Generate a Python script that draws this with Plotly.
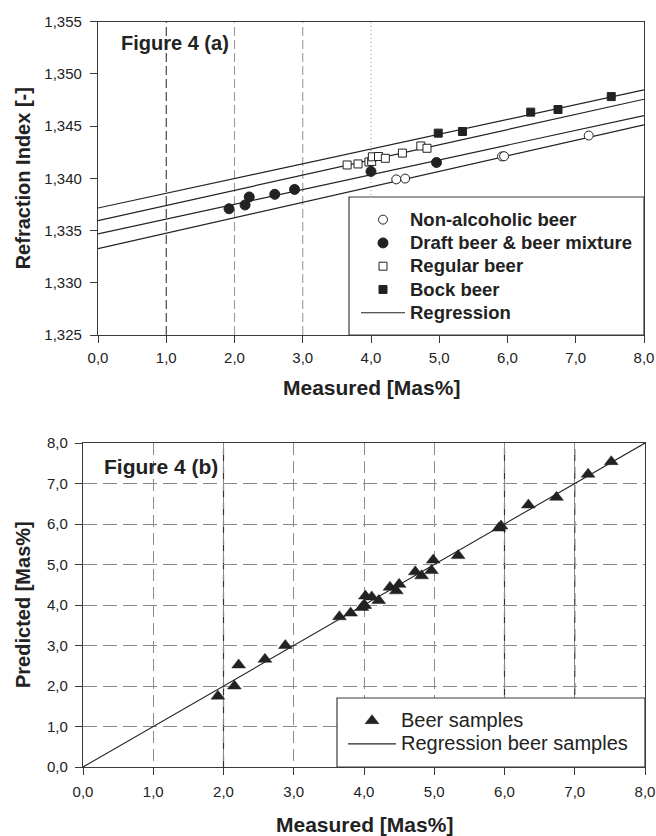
import plotly.graph_objects as go

# ---------------- data: Figure 4 (a) ----------------
na_x = [4.37, 4.50, 5.92, 5.95, 7.19]
na_y = [1.33990, 1.33998, 1.34210, 1.34212, 1.34410]

draft_x = [1.92, 2.155, 2.216, 2.59, 2.88, 4.00, 4.96]
draft_y = [1.33709, 1.33745, 1.33822, 1.33847, 1.33894, 1.34066, 1.34152]

regular_x = [3.65, 3.81, 3.97, 4.01, 4.02, 4.11, 4.21, 4.46, 4.73, 4.82]
regular_y = [1.34128, 1.34138, 1.34156, 1.34162, 1.34206, 1.34209, 1.34192, 1.34242, 1.34310, 1.34288]

bock_x = [4.985, 5.34, 6.34, 6.74, 7.52]
bock_y = [1.34433, 1.34449, 1.34634, 1.34659, 1.34783]

# regression lines (intercept, slope)
reg_names = ["Bock", "Regular", "Draft", "Non-alcoholic"]
reg_intercepts = [1.33716, 1.33595, 1.33468, 1.33327]
reg_slopes = [0.001413, 0.001453, 0.001417, 0.001481]
reg_x_range = [0.0, 8.0]

# reference (grid-like) vertical lines in panel (a)
ref_lines_a = [1, 2, 3, 4]

a_xtickvals = [0, 1, 2, 3, 4, 5, 6, 7, 8]
a_xticktext = ["0,0", "1,0", "2,0", "3,0", "4,0", "5,0", "6,0", "7,0", "8,0"]
a_ytickvals = [1.325, 1.330, 1.335, 1.340, 1.345, 1.350, 1.355]
a_yticktext = ["1,325", "1,330", "1,335", "1,340", "1,345", "1,350", "1,355"]

# ---------------- data: Figure 4 (b) ----------------
# predicted values in the order: non-alcoholic, draft, regular, bock
beer_predicted = [4.44, 4.51, 5.90, 5.95, 7.23,
                  1.75, 2.00, 2.52, 2.66, 3.00, 4.00, 4.85,
                  3.71, 3.80, 3.94, 3.99, 4.22, 4.20, 4.11, 4.35, 4.82, 4.72,
                  5.11, 5.22, 6.47, 6.66, 7.54]
beer_measured = na_x + draft_x + regular_x + bock_x
reg_b_intercept = 0.0
reg_b_slope = 1.0
reg_b_x_range = [0.0, 8.0]

b_tickvals = [0, 1, 2, 3, 4, 5, 6, 7, 8]
b_ticktext = ["0,0", "1,0", "2,0", "3,0", "4,0", "5,0", "6,0", "7,0", "8,0"]
b_dark_x = [2, 6, 7]
b_dark_y = [3]

# ---------------- figure ----------------
W, H = 656, 836
FONT = "Liberation Sans, Arial, Helvetica, sans-serif"
INK = "#222222"
AXC = "#3a3a3a"


def px(xp):
    return xp / W


def py(yp):
    return 1 - yp / H


def big(txt, size, bold=False):
    inner = f'<span style="font-size:{size}px">{txt}</span>'
    return f"<b>{inner}</b>" if bold else inner


fig = go.Figure()

# regression lines (a)
for i, (b0, b1) in enumerate(zip(reg_intercepts, reg_slopes)):
    fig.add_trace(go.Scatter(
        x=reg_x_range, y=[b0 + b1 * v for v in reg_x_range],
        mode="lines", line=dict(color=INK, width=1.2),
        name=big("Regression", 18.5, True), showlegend=(i == 0), legendrank=5,
        xaxis="x", yaxis="y", legend="legend"))

mk_line = dict(color=INK, width=1)
fig.add_trace(go.Scatter(x=na_x, y=na_y, mode="markers", name=big("Non-alcoholic beer", 18.5, True),
                         marker=dict(symbol="circle", size=9, color="white", line=mk_line),
                         legendrank=1, xaxis="x", yaxis="y", legend="legend"))
fig.add_trace(go.Scatter(x=draft_x, y=draft_y, mode="markers",
                         name=big("Draft beer &amp; beer mixture", 18.5, True),
                         marker=dict(symbol="circle", size=10, color=INK, line=mk_line),
                         legendrank=2, xaxis="x", yaxis="y", legend="legend"))
fig.add_trace(go.Scatter(x=regular_x, y=regular_y, mode="markers", name=big("Regular beer", 18.5, True),
                         marker=dict(symbol="square", size=8, color="white", line=mk_line),
                         legendrank=3, xaxis="x", yaxis="y", legend="legend"))
fig.add_trace(go.Scatter(x=bock_x, y=bock_y, mode="markers", name=big("Bock beer", 18.5, True),
                         marker=dict(symbol="square", size=8, color=INK, line=mk_line),
                         legendrank=4, xaxis="x", yaxis="y", legend="legend"))

# panel (b)
fig.add_trace(go.Scatter(
    x=reg_b_x_range, y=[reg_b_intercept + reg_b_slope * v for v in reg_b_x_range],
    mode="lines", line=dict(color=INK, width=1.1), name=big("Regression beer samples", 20),
    legendrank=2, xaxis="x2", yaxis="y2", legend="legend2"))
fig.add_trace(go.Scatter(
    x=beer_measured, y=beer_predicted, mode="markers", name=big("Beer samples", 20),
    marker=dict(symbol="triangle-up", size=12, color=INK, line=dict(color=INK, width=0.5)),
    legendrank=1, xaxis="x2", yaxis="y2", legend="legend2"))

# domains in pixels
A_L, A_R, A_T, A_B = 98, 644, 21.7, 335
B_L, B_R, B_T, B_B = 83, 645, 443, 767

tickfont = dict(family=FONT, size=15, color=INK)
axis_common = dict(showline=True, linecolor=AXC, linewidth=1.3, mirror=True,
                   ticks="outside", ticklen=7, tickcolor=AXC, tickwidth=1,
                   zeroline=False, tickfont=tickfont, automargin=False)

shapes = []
for v in ref_lines_a:
    style = {1: ("#333333", "9px,4px"), 2: ("#9a9a9a", "9px,4px"),
             3: ("#9a9a9a", "9px,4px"), 4: ("#9a9a9a", "1px,3px")}[v]
    shapes.append(dict(type="line", xref="x", yref="y domain", x0=v, x1=v, y0=0, y1=1,
                       line=dict(color=style[0], width=1.1, dash=style[1]), layer="below"))
for v in b_dark_x:
    shapes.append(dict(type="line", xref="x2", yref="y2 domain", x0=v, x1=v, y0=0, y1=1,
                       line=dict(color="#333333", width=1.2, dash="12px,6px"), layer="below"))
for v in b_dark_y:
    shapes.append(dict(type="line", xref="x2 domain", yref="y2", x0=0, x1=1, y0=v, y1=v,
                       line=dict(color="#333333", width=1.2, dash="14px,6px"), layer="below"))

# legend boxes
shapes.append(dict(type="rect", xref="paper", yref="paper",
                   x0=px(349), x1=px(A_R), y0=py(A_B), y1=py(197),
                   line=dict(color=AXC, width=1.2), fillcolor="white", layer="above"))
shapes.append(dict(type="rect", xref="paper", yref="paper",
                   x0=px(337), x1=px(B_R), y0=py(B_B), y1=py(698),
                   line=dict(color=AXC, width=1.2), fillcolor="white", layer="above"))

annotations = [
    dict(text="<b>Figure 4 (a)</b>", x=px(119), y=py(43), xref="paper", yref="paper",
         xanchor="left", yanchor="middle", showarrow=False,
         font=dict(family=FONT, size=20, color=INK)),
    dict(text="<b>Figure 4 (b)</b>", x=px(102), y=py(466), xref="paper", yref="paper",
         xanchor="left", yanchor="middle", showarrow=False,
         font=dict(family=FONT, size=21, color=INK)),
    dict(text="<b>Refraction Index [-]</b>", x=px(23), y=py((A_T + A_B) / 2), xref="paper",
         yref="paper", xanchor="center", yanchor="middle", textangle=-90, showarrow=False,
         font=dict(family=FONT, size=20, color=INK)),
    dict(text="<b>Measured [Mas%]</b>", x=px((A_L + A_R) / 2), y=py(387), xref="paper",
         yref="paper", xanchor="center", yanchor="middle", showarrow=False,
         font=dict(family=FONT, size=21, color=INK)),
    dict(text="<b>Predicted [Mas%]</b>", x=px(23), y=py((B_T + B_B) / 2), xref="paper",
         yref="paper", xanchor="center", yanchor="middle", textangle=-90, showarrow=False,
         font=dict(family=FONT, size=20, color=INK)),
    dict(text="<b>Measured [Mas%]</b>", x=px((B_L + B_R) / 2), y=py(824), xref="paper",
         yref="paper", xanchor="center", yanchor="middle", showarrow=False,
         font=dict(family=FONT, size=21, color=INK)),
]

fig.update_layout(
    width=W, height=H,
    margin=dict(l=0, r=0, t=0, b=0),
    paper_bgcolor="white", plot_bgcolor="white",
    font=dict(family=FONT, color=INK),
    xaxis=dict(domain=[px(A_L), px(A_R)], anchor="y", range=[0, 8],
               tickvals=a_xtickvals, ticktext=a_xticktext, showgrid=False,
               ticklabelstandoff=2, **axis_common),
    yaxis=dict(domain=[py(A_B), py(A_T)], anchor="x", range=[1.325, 1.355],
               tickvals=a_ytickvals, ticktext=a_yticktext, showgrid=False,
               ticklabelstandoff=5, **axis_common),
    xaxis2=dict(domain=[px(B_L), px(B_R)], anchor="y2", range=[0, 8],
                tickvals=b_tickvals, ticktext=b_ticktext, showgrid=True,
                gridcolor="#8a8a8a", gridwidth=1, griddash="12px,6px",
                ticklabelstandoff=4, **axis_common),
    yaxis2=dict(domain=[py(B_B), py(B_T)], anchor="x2", range=[0, 8],
                tickvals=b_tickvals, ticktext=b_ticktext, showgrid=True,
                gridcolor="#8a8a8a", gridwidth=1, griddash="14px,6px",
                ticklabelstandoff=4, **axis_common),
    legend=dict(x=px(356), y=py(203), xanchor="left", yanchor="top",
                bgcolor="rgba(0,0,0,0)", borderwidth=0, itemwidth=44,
                font=dict(family=FONT, size=15.6, color=INK),
                traceorder="normal"),
    legend2=dict(x=px(343), y=py(704), xanchor="left", yanchor="top",
                 bgcolor="rgba(0,0,0,0)", borderwidth=0, itemwidth=48,
                 font=dict(family=FONT, size=15.6, color=INK),
                 traceorder="normal"),
    shapes=shapes,
    annotations=annotations,
)

fig.write_html("out.html", config={"displayModeBar": False},
               post_script="document.body.style.margin='0px';")
